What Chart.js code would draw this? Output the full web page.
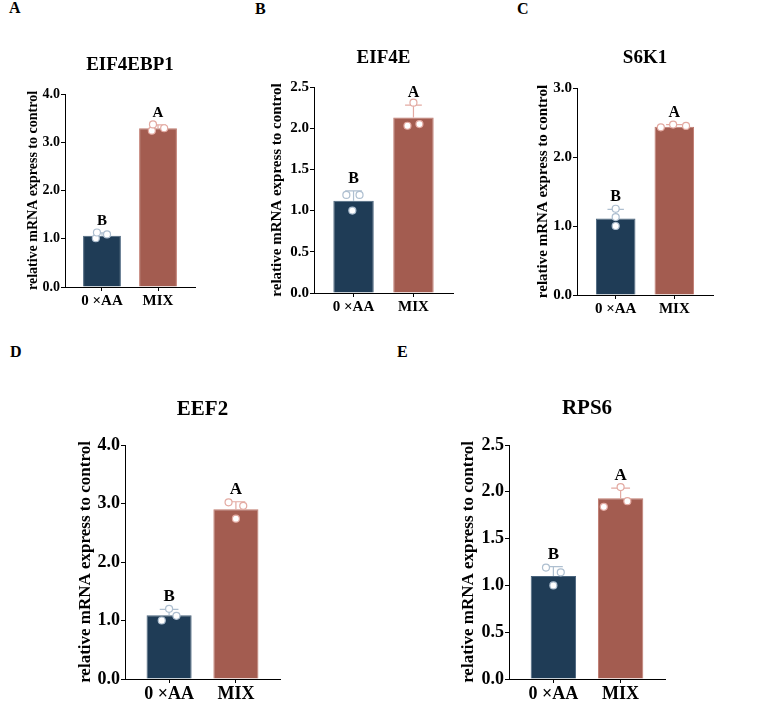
<!DOCTYPE html>
<html>
<head>
<meta charset="utf-8">
<script src="https://cdn.jsdelivr.net/npm/chart.js@4.4.0/dist/chart.umd.min.js"></script>
<style>
body { margin: 0; background: #fff; }
#page { position: relative; width: 767px; height: 708px; overflow: hidden; }
.panel-letter { position: absolute; font: bold 16px 'Liberation Serif', 'Times New Roman', serif; line-height: 16px; color: #000; }
canvas { position: absolute; }
</style>
</head>
<body>
<div id="page"></div>
<script>
// data
const groups = ['0 ×AA', 'MIX'];
const genes = ['EIF4EBP1', 'EIF4E', 'S6K1', 'EEF2', 'RPS6'];
const panelNames = ['A', 'B', 'C', 'D', 'E'];
const sigLetters = ['B', 'A'];
const meanValues = [[1.06, 3.29], [1.12, 2.13], [1.11, 2.44], [1.09, 2.90], [1.10, 1.93]];
const sdValues = [[0.06, 0.07], [0.12, 0.15], [0.13, 0.03], [0.10, 0.13], [0.10, 0.11]];
const ctrlPoints = [[1.01, 1.13, 1.09], [1.00, 1.19, 1.19], [1.00, 1.13, 1.25], [1.00, 1.20, 1.08], [1.00, 1.19, 1.14]];
const mixPoints = [[3.24, 3.37, 3.29], [2.03, 2.05, 2.31], [2.43, 2.47, 2.45], [3.02, 2.74, 2.96], [1.84, 1.90, 2.05]];
const yMax = [4, 2.5, 3, 4, 2.5];
const yStep = [1, 0.5, 1, 1, 0.5];

// horizontal spread of the dots inside each bar (drawing only)
const ctrlJitter = [[-0.11, -0.09, 0.09], [-0.02, -0.12, 0.10], [0, 0, 0], [-0.11, 0, 0.11], [0, -0.11, 0.11]];
const mixJitter = [[-0.11, -0.09, 0.11], [-0.10, 0.10, 0], [-0.23, -0.02, 0.20], [-0.11, 0, 0.11], [-0.25, 0.10, 0]];

// where each panel sits on the page
const panelBoxes = [
    { left: 25, top: 49, axisW: 40, plotW: 130, plotH: 193, padTop: 45, tick: 14, xl: 15, yt: 14, title: 19, sig: 15 },
    { left: 268, top: 42, axisW: 46, plotW: 139, plotH: 206, padTop: 45, tick: 15, xl: 15, yt: 15, title: 19, sig: 16 },
    { left: 534, top: 42, axisW: 43, plotW: 136, plotH: 207, padTop: 46, tick: 15, xl: 15, yt: 15, title: 19, sig: 16 },
    { left: 75, top: 394, axisW: 50, plotW: 155, plotH: 234, padTop: 51, tick: 18, xl: 18, yt: 17, title: 21, sig: 17 },
    { left: 458, top: 393, axisW: 51, plotW: 156, plotH: 234, padTop: 52, tick: 18, xl: 18, yt: 17, title: 21, sig: 17 }
];
const letterPos = [[9, 0], [255, 1], [517, 1], [10, 344], [397, 344]];

const serif = "'Liberation Serif', 'Times New Roman', serif";
const barColors = ['#1f3c56', '#a35c50'];
const barEdges = ['#4a647d', '#c07a6f'];
const lightColors = ['#aebfd0', '#e3aaa2'];

const page = document.getElementById('page');

panelNames.forEach((name, i) => {
    const lab = document.createElement('div');
    lab.className = 'panel-letter';
    lab.textContent = name;
    lab.style.left = letterPos[i][0] + 'px';
    lab.style.top = letterPos[i][1] + 'px';
    page.appendChild(lab);
});

// error bars, gene title and significance letters
const extrasPlugin = {
    id: 'extras',
    afterDatasetDraw(chart, args, opts) {
        if (args.index !== 0) return;
        const ctx = chart.ctx;
        const xs = chart.scales.x, ys = chart.scales.y;
        ctx.save();
        ctx.lineWidth = 1.2;
        opts.means.forEach((m, g) => {
            const x = xs.getPixelForValue(g);
            const half = xs.getPixelForValue(g + 0.14) - x;
            const y0 = ys.getPixelForValue(m);
            const y1 = ys.getPixelForValue(m + opts.sd[g]);
            ctx.strokeStyle = lightColors[g];
            ctx.beginPath();
            ctx.moveTo(x, y0);
            ctx.lineTo(x, y1);
            ctx.moveTo(x - half, y1);
            ctx.lineTo(x + half, y1);
            ctx.stroke();
        });
        ctx.restore();
    },
    afterDraw(chart, args, opts) {
        const ctx = chart.ctx;
        const area = chart.chartArea;
        const xs = chart.scales.x, ys = chart.scales.y;
        ctx.save();
        ctx.fillStyle = '#000';
        ctx.textAlign = 'center';
        ctx.textBaseline = 'middle';
        ctx.font = 'bold ' + opts.titleSize + 'px ' + serif;
        ctx.fillText(opts.gene, (area.left + area.right) / 2, 16);
        ctx.textBaseline = 'alphabetic';
        ctx.font = 'bold ' + opts.sigSize + 'px ' + serif;
        opts.means.forEach((m, g) => {
            const x = xs.getPixelForValue(g);
            const y = ys.getPixelForValue(m + opts.sd[g]) - 8;
            ctx.fillText(sigLetters[g], x, y);
        });
        ctx.restore();
    }
};

genes.forEach((gene, i) => {
    const box = panelBoxes[i];
    const canvas = document.createElement('canvas');
    canvas.width = box.axisW + box.plotW + 12;
    canvas.height = box.padTop + box.plotH + 30;
    canvas.style.left = box.left + 'px';
    canvas.style.top = box.top + 'px';
    page.appendChild(canvas);

    const dots = [];
    const dotColors = [];
    [ctrlPoints[i], mixPoints[i]].forEach((vals, g) => {
        const jit = g === 0 ? ctrlJitter[i] : mixJitter[i];
        vals.forEach((v, k) => {
            dots.push({ x: g + jit[k], y: v });
            dotColors.push(lightColors[g]);
        });
    });

    new Chart(canvas.getContext('2d'), {
        type: 'bar',
        data: {
            datasets: [{
                data: meanValues[i].map((v, g) => ({ x: g, y: v })),
                backgroundColor: barColors,
                borderColor: barEdges,
                borderWidth: 1,
                barPercentage: 0.675,
                categoryPercentage: 1,
                order: 1
            }, {
                type: 'scatter',
                data: dots,
                pointRadius: 3.5,
                pointBorderWidth: 1.2,
                pointBackgroundColor: '#fff',
                pointBorderColor: dotColors,
                order: 0
            }]
        },
        options: {
            responsive: false,
            animation: false,
            layout: { padding: { top: box.padTop, right: 12, left: 0, bottom: 0 } },
            plugins: {
                legend: { display: false },
                tooltip: { enabled: false },
                extras: {
                    gene: gene,
                    means: meanValues[i],
                    sd: sdValues[i],
                    titleSize: box.title,
                    sigSize: box.sig
                }
            },
            scales: {
                x: {
                    type: 'linear',
                    offset: false,
                    min: -0.66,
                    max: 1.66,
                    afterBuildTicks: (scale) => { scale.ticks = [{ value: 0 }, { value: 1 }]; },
                    afterFit: (scale) => { scale.height = 30; },
                    grid: { offset: false, drawOnChartArea: false, color: '#000', tickLength: 4 },
                    border: { color: '#000', width: 1 },
                    ticks: {
                        autoSkip: false,
                        maxRotation: 0,
                        padding: 1,
                        color: '#000',
                        font: { family: serif, weight: 'bold', size: box.xl },
                        callback: (v) => groups[v]
                    }
                },
                y: {
                    min: 0,
                    max: yMax[i],
                    afterFit: (scale) => { scale.width = box.axisW; },
                    grid: { drawOnChartArea: false, color: '#000', tickLength: 4 },
                    border: { color: '#000', width: 1 },
                    ticks: {
                        stepSize: yStep[i],
                        padding: 1,
                        color: '#000',
                        font: { family: serif, weight: 'bold', size: box.tick },
                        callback: (v) => v.toFixed(1)
                    },
                    title: {
                        display: true,
                        text: 'relative mRNA express to control',
                        padding: 0,
                        color: '#000',
                        font: { family: serif, weight: 'bold', size: box.yt }
                    }
                }
            }
        },
        plugins: [extrasPlugin]
    });
});
</script>
</body>
</html>
